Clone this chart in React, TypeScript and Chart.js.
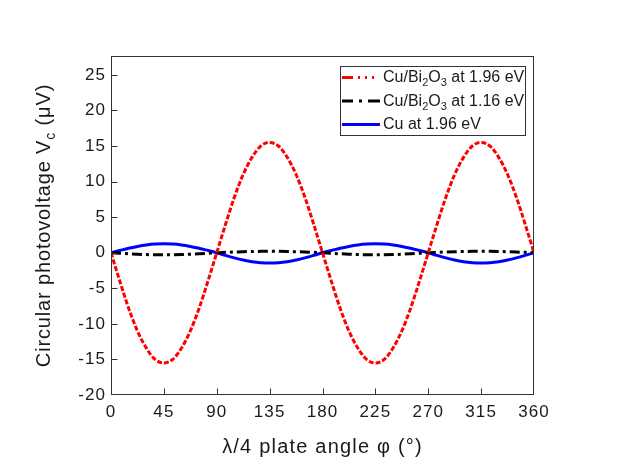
import { useEffect, useRef } from "react";
import { Chart, registerables } from "chart.js";

Chart.register(...registerables);

// plate angle φ (degrees)
const angles = [
  0, 7.5, 15, 22.5, 30, 37.5, 45, 52.5, 60, 67.5, 75, 82.5,
  90, 97.5, 105, 112.5, 120, 127.5, 135, 142.5, 150, 157.5, 165, 172.5,
  180, 187.5, 195, 202.5, 210, 217.5, 225, 232.5, 240, 247.5, 255, 262.5,
  270, 277.5, 285, 292.5, 300, 307.5, 315, 322.5, 330, 337.5, 345, 352.5,
  360,
];

// Cu/Bi2O3 at 1.96 eV (μV)
const bi196 = [
  0, -4.0, -7.8, -11.0, -13.4, -15.0, -15.5, -15.0, -13.4, -11.0, -7.8, -4.0,
  0, 4.0, 7.8, 11.0, 13.4, 15.0, 15.5, 15.0, 13.4, 11.0, 7.8, 4.0,
  0, -4.0, -7.8, -11.0, -13.4, -15.0, -15.5, -15.0, -13.4, -11.0, -7.8, -4.0,
  0, 4.0, 7.8, 11.0, 13.4, 15.0, 15.5, 15.0, 13.4, 11.0, 7.8, 4.0,
  0,
];

// Cu/Bi2O3 at 1.16 eV (μV)
const bi116 = [
  0, -0.08, -0.15, -0.21, -0.26, -0.29, -0.3, -0.29, -0.26, -0.21, -0.15, -0.08,
  0, 0.05, 0.1, 0.14, 0.17, 0.19, 0.2, 0.19, 0.17, 0.14, 0.1, 0.05,
  0, -0.08, -0.15, -0.21, -0.26, -0.29, -0.3, -0.29, -0.26, -0.21, -0.15, -0.08,
  0, 0.05, 0.1, 0.14, 0.17, 0.19, 0.2, 0.19, 0.17, 0.14, 0.1, 0.05,
  0,
];

// Cu at 1.96 eV (μV)
const cu196 = [
  0, 0.32, 0.63, 0.88, 1.08, 1.21, 1.25, 1.21, 1.08, 0.88, 0.63, 0.32,
  0, -0.38, -0.73, -1.03, -1.26, -1.4, -1.45, -1.4, -1.26, -1.03, -0.73, -0.38,
  0, 0.32, 0.63, 0.88, 1.08, 1.21, 1.25, 1.21, 1.08, 0.88, 0.63, 0.32,
  0, -0.38, -0.73, -1.03, -1.26, -1.4, -1.45, -1.4, -1.26, -1.03, -0.73, -0.38,
  0,
];

const xTicks = [0, 45, 90, 135, 180, 225, 270, 315, 360];
const yTicks = [-20, -15, -10, -5, 0, 5, 10, 15, 20, 25];

const FONT = "'Liberation Sans', Arial, sans-serif";
const TEXT = "#1a1a1a";
const AXIS = "#333333";

type Part = { t: string; sub?: boolean };

const legendRows: { parts: Part[]; color: string; dash: number[] }[] = [
  {
    parts: [{ t: "Cu/Bi" }, { t: "2", sub: true }, { t: "O" }, { t: "3", sub: true }, { t: " at 1.96 eV" }],
    color: "#ff0000",
    dash: [11, 5, 2, 5, 2, 5, 2, 6],
  },
  {
    parts: [{ t: "Cu/Bi" }, { t: "2", sub: true }, { t: "O" }, { t: "3", sub: true }, { t: " at 1.16 eV" }],
    color: "#000000",
    dash: [11, 6, 3, 6, 14],
  },
  {
    parts: [{ t: "Cu at 1.96 eV" }],
    color: "#0000ff",
    dash: [],
  },
];

const yTitle: Part[] = [{ t: "Circular photovoltage V" }, { t: "c", sub: true }, { t: " (μV)" }];
const xTitle = "λ/4 plate angle φ (°)";

function richWidth(ctx: CanvasRenderingContext2D, parts: Part[], size: number, subSize: number) {
  let w = 0;
  for (const p of parts) {
    ctx.font = `${p.sub ? subSize : size}px ${FONT}`;
    w += ctx.measureText(p.t).width;
  }
  return w;
}

function drawRich(
  ctx: CanvasRenderingContext2D,
  parts: Part[],
  x: number,
  y: number,
  size: number,
  subSize: number,
  subShift: number
) {
  let cx = x;
  for (const p of parts) {
    ctx.font = `${p.sub ? subSize : size}px ${FONT}`;
    ctx.fillText(p.t, cx, p.sub ? y + subShift : y);
    cx += ctx.measureText(p.t).width;
  }
}

const decorPlugin = {
  id: "decor",
  beforeDraw(chart: any) {
    (chart.ctx as any).letterSpacing = "1.1px";
  },
  afterDatasetsDraw(chart: any) {
    const { ctx, chartArea: a, scales } = chart;
    ctx.save();
    // frame
    ctx.strokeStyle = AXIS;
    ctx.lineWidth = 1;
    ctx.setLineDash([]);
    const L = Math.round(a.left) + 0.5;
    const T = Math.round(a.top) + 0.5;
    const R = Math.round(a.right) - 0.5;
    const B = Math.round(a.bottom) - 0.5;
    ctx.strokeRect(L, T, R - L, B - T);
    // inward ticks
    ctx.beginPath();
    for (const v of xTicks) {
      const px = Math.min(R, Math.round(scales.x.getPixelForValue(v)) + 0.5);
      ctx.moveTo(px, B);
      ctx.lineTo(px, B - 6);
    }
    for (const v of yTicks) {
      const py = Math.min(B, Math.round(scales.y.getPixelForValue(v)) + 0.5);
      ctx.moveTo(L, py);
      ctx.lineTo(L + 6, py);
    }
    ctx.stroke();

    // legend
    (ctx as any).letterSpacing = "0px";
    const lx = 340.5, ly = 66.5, lw = 185, lh = 69;
    ctx.fillStyle = "#ffffff";
    ctx.fillRect(lx, ly, lw, lh);
    ctx.strokeStyle = AXIS;
    ctx.strokeRect(lx, ly, lw, lh);
    legendRows.forEach((row, i) => {
      const base = 82 + i * 23.5;
      const lineY = base - 4.5;
      ctx.strokeStyle = row.color;
      ctx.lineWidth = 3;
      ctx.setLineDash(row.dash);
      ctx.beginPath();
      ctx.moveTo(342, lineY);
      ctx.lineTo(380, lineY);
      ctx.stroke();
      ctx.setLineDash([]);
      ctx.fillStyle = TEXT;
      ctx.textBaseline = "alphabetic";
      ctx.textAlign = "left";
      drawRich(ctx, row.parts, 383, base, 16, 11, 4);
    });

    // x title
    ctx.fillStyle = TEXT;
    ctx.textAlign = "left";
    ctx.textBaseline = "alphabetic";
    (ctx as any).letterSpacing = "1.2px";
    ctx.font = `20px ${FONT}`;
    const xw = ctx.measureText(xTitle).width;
    ctx.fillText(xTitle, (a.left + a.right) / 2 - xw / 2, 453);

    // y title (rotated)
    (ctx as any).letterSpacing = "0.85px";
    const yw = richWidth(ctx, yTitle, 20, 14);
    ctx.translate(50, (a.top + a.bottom) / 2);
    ctx.rotate(-Math.PI / 2);
    drawRich(ctx, yTitle, -yw / 2, 0, 20, 14, 5);
    ctx.restore();
  },
};

export default function App() {
  const ref = useRef<HTMLCanvasElement>(null);
  useEffect(() => {
    const canvas = ref.current!;
    const mk = (vals: number[]) => angles.map((x, i) => ({ x, y: vals[i] }));
    const chart = new Chart(canvas, {
      type: "line",
      data: {
        datasets: [
          {
            label: "Cu/Bi2O3 at 1.96 eV",
            data: mk(bi196),
            borderColor: "#ff0000",
            borderWidth: 3,
            borderDash: [5, 2],
            pointRadius: 0,
            cubicInterpolationMode: "monotone",
            fill: false,
          },
          {
            label: "Cu/Bi2O3 at 1.16 eV",
            data: mk(bi116),
            borderColor: "#000000",
            borderWidth: 3,
            borderDash: [10, 4, 3, 4],
            pointRadius: 0,
            cubicInterpolationMode: "monotone",
            fill: false,
          },
          {
            label: "Cu at 1.96 eV",
            data: mk(cu196),
            borderColor: "#0000ff",
            borderWidth: 3,
            pointRadius: 0,
            cubicInterpolationMode: "monotone",
            fill: false,
          },
        ],
      },
      options: {
        responsive: false,
        animation: false,
        devicePixelRatio: 1,
        layout: { padding: { top: 56, right: 89, left: 0, bottom: 0 } },
        plugins: { legend: { display: false }, tooltip: { enabled: false } },
        scales: {
          x: {
            type: "linear",
            min: 0,
            max: 360,
            grid: { display: false, drawTicks: false },
            border: { display: false },
            afterBuildTicks: (s: any) => {
              s.ticks = xTicks.map((v) => ({ value: v }));
            },
            afterFit: (s: any) => {
              s.height = 76;
            },
            ticks: {
              padding: 7,
              color: TEXT,
              font: { family: FONT, size: 17 },
              maxRotation: 0,
              autoSkip: false,
              callback: (v: any) => String(v),
            },
          },
          y: {
            type: "linear",
            min: -20,
            max: 27.65,
            grid: { display: false, drawTicks: false },
            border: { display: false },
            afterBuildTicks: (s: any) => {
              s.ticks = yTicks.map((v) => ({ value: v }));
            },
            afterFit: (s: any) => {
              s.width = 111;
            },
            ticks: {
              padding: 5,
              color: TEXT,
              font: { family: FONT, size: 17 },
              autoSkip: false,
              callback: (v: any) => String(v),
            },
          },
        },
      },
      plugins: [decorPlugin],
    });
    return () => chart.destroy();
  }, []);
  return (
    <div style={{ position: "fixed", left: 0, top: 0, width: 623, height: 471, background: "#fff" }}>
      <canvas ref={ref} width={623} height={471} style={{ display: "block", width: 623, height: 471 }} />
    </div>
  );
}
